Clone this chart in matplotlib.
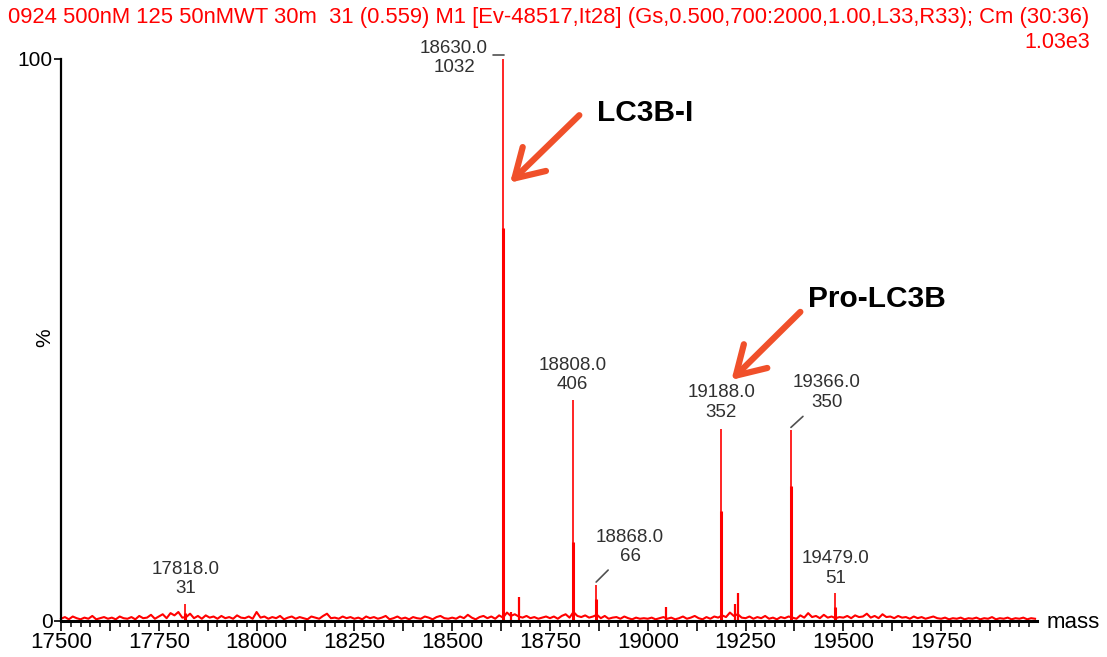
import matplotlib
matplotlib.use("Agg")
import matplotlib.pyplot as plt
import matplotlib.transforms as mtransforms
from matplotlib.ticker import MultipleLocator, FuncFormatter
import numpy as np

plt.rcParams['font.family'] = ['Liberation Sans', 'DejaVu Sans']

# labelled peaks (mass, counts) and the height of the broad lower part of each peak (%)
peak_mass = [17818.0, 18630.0, 18808.0, 18868.0, 19188.0, 19366.0, 19479.0]
peak_counts = [31, 1032, 406, 66, 352, 350, 51]
peak_shoulder = [1.5, 70.0, 14.0, 4.0, 19.6, 24.0, 2.5]
base_peak = 1032

# unlabelled small peaks
minor_mass = [18651, 18671, 19047, 19224, 19231]
minor_pct = [1.6, 4.3, 2.5, 3.0, 5.0]

# baseline noise, one value every 10 Da from 17500
noise_start, noise_step = 17500, 10
noise_pct = [
    0.4, 0.7, 0.3, 0.8, 0.5, 0.3, 0.6, 0.4, 0.9, 0.3, 0.5, 0.7, 0.4, 0.6, 0.3, 0.8, 0.5, 0.4, 0.7, 0.3, 0.9, 0.5, 0.6, 1.1, 0.4,
    0.8, 1.2, 0.5, 1.4, 1.0, 1.6, 0.6, 0.7, 1.3, 0.5, 0.9, 0.4, 1.0, 0.6, 0.8, 0.4, 0.9, 0.5, 0.7, 0.4, 1.0, 0.6, 0.5, 0.8, 0.4,
    1.6, 0.6, 0.8, 0.4, 0.7, 0.5, 0.9, 0.3, 0.6, 0.8, 0.4, 0.7, 0.5, 0.3, 0.8, 0.6, 0.4, 0.9, 1.3, 0.5, 0.6, 0.4, 0.8, 0.5, 0.7,
    0.4, 0.6, 0.3, 0.8, 0.5, 0.7, 0.4, 0.6, 0.9, 0.3, 0.5, 0.8, 0.4, 0.6, 0.3, 0.7, 0.5, 0.4, 0.8, 0.6, 0.3, 0.7, 0.9, 0.5, 0.4,
    0.6, 0.4, 0.8, 0.5, 1.1, 0.6, 0.3, 0.7, 0.9, 0.5, 0.8, 0.4, 1.0, 0.6, 1.5, 0.9, 1.2, 0.8, 0.6, 0.9, 0.5, 0.7, 0.4, 0.6, 0.8,
    0.5, 0.8, 0.4, 0.9, 1.2, 0.6, 1.6, 0.9, 0.7, 1.0, 0.6, 0.8, 1.1, 0.5, 0.9, 0.4, 0.6, 0.7, 0.4, 0.8, 0.5, 0.3, 0.6, 0.4, 0.5,
    0.4, 0.6, 0.3, 0.5, 0.7, 0.4, 0.6, 0.3, 0.5, 0.8, 0.4, 0.6, 0.9, 0.5, 0.3, 0.7, 0.4, 0.8, 0.6, 1.0, 0.7, 1.5, 0.9, 1.2, 0.6,
    0.5, 0.8, 0.4, 0.7, 0.5, 0.9, 0.4, 0.6, 0.3, 0.7, 0.5, 0.8, 0.6, 0.4, 1.0, 0.6, 1.4, 0.7, 0.9, 0.5, 1.1, 0.6, 0.8, 0.5, 0.7,
    0.6, 0.9, 0.5, 1.0, 0.7, 0.8, 1.3, 0.6, 0.9, 0.5, 1.2, 0.7, 0.8, 0.5, 0.9, 0.6, 0.7, 0.4, 0.8, 0.5, 0.7, 0.4, 0.6, 0.8, 0.5,
    0.4, 0.6, 0.3, 0.5, 0.4, 0.6, 0.3, 0.5, 0.4, 0.6, 0.3, 0.5, 0.4, 0.7, 0.3, 0.5, 0.4, 0.6, 0.3, 0.5, 0.4, 0.6, 0.3, 0.5, 0.4,
]

header = "0924 500nM 125 50nMWT 30m  31 (0.559) M1 [Ev-48517,It28] (Gs,0.500,700:2000,1.00,L33,R33); Cm (30:36)"
red = "#FF0000"
arrow_color = "#F0502A"
label_color = "#303030"

peak_pct = [c / base_peak * 100 for c in peak_counts]
noise_mass = noise_start + noise_step * np.arange(len(noise_pct))

fig = plt.figure(figsize=(11.07, 6.57), dpi=100)
ax = fig.add_axes([61 / 1107, 36 / 657, 976 / 1107, 562 / 657])

ax.plot(noise_mass, noise_pct, color=red, lw=1.5, clip_on=False)
ax.vlines(minor_mass, 0, minor_pct, color=red, lw=1.6)
ax.vlines(peak_mass, 0, peak_shoulder, color=red, lw=2.2)
ax.vlines(peak_mass, 0, peak_pct, color=red, lw=1.2, clip_on=False)

ax.set_xlim(17500, 19995)
ax.set_ylim(0, 100)

# peak labels: (dx, dy) offset of the label block in pixels
label_offsets = [(0, 25), (-49, 1), (0, 25), (34, 38), (0, 27), (36, 38), (0, 25)]
for m, c, p, (dx, dy) in zip(peak_mass, peak_counts, peak_pct, label_offsets):
    ax.annotate(f"{m:.1f}\n{c}", xy=(m, p), xytext=(dx, dy), textcoords='offset pixels',
                ha='center', va='center', fontsize=13.5, color=label_color)

def leader(m, p, x0, y0, x1, y1):
    t0 = mtransforms.offset_copy(ax.transData, fig=fig, x=x0, y=y0, units='dots')
    t1 = mtransforms.offset_copy(ax.transData, fig=fig, x=x1, y=y1, units='dots')
    ax.annotate('', xy=(m, p), xycoords=t0, xytext=(m, p), textcoords=t1,
                arrowprops=dict(arrowstyle='-', color='#505050', lw=1.2, shrinkA=0, shrinkB=0))

leader(peak_mass[1], peak_pct[1], 1, 4, -10, 4)
leader(peak_mass[3], peak_pct[3], 0, 3, 12, 15)
leader(peak_mass[5], peak_pct[5], 0, 3, 12, 14)

# arrows pointing at the two forms
arrow_kw = dict(arrowstyle='->,head_length=1.0,head_width=0.6', color=arrow_color, lw=4.5,
                mutation_scale=20, shrinkA=0, shrinkB=0)
ax.annotate('', xy=(18648, 78), xytext=(18825, 90.0), arrowprops=arrow_kw)
ax.annotate('', xy=(19214, 42.9), xytext=(19390, 55.0), arrowprops=arrow_kw)
ax.text(18871, 90.4, "LC3B-I", fontsize=21.5, fontweight='bold', ha='left', va='center')
ax.text(19410, 57.3, "Pro-LC3B", fontsize=21.5, fontweight='bold', ha='left', va='center')

# axes styling
for s in ['top', 'right']:
    ax.spines[s].set_visible(False)
ax.spines['bottom'].set_linewidth(2.2)
ax.spines['left'].set_linewidth(1.6)
ax.xaxis.set_major_locator(MultipleLocator(125))
ax.xaxis.set_minor_locator(MultipleLocator(25))
ax.xaxis.set_major_formatter(FuncFormatter(lambda v, pos: f"{int(v)}" if int(v) % 250 == 0 else ""))
ax.set_yticks([0, 100])
ax.tick_params(axis='x', which='major', length=7, width=1.2, labelsize=16, pad=1)
ax.tick_params(axis='x', which='minor', length=4, width=1.1)
ax.tick_params(axis='y', length=5, width=1.2, labelsize=15, pad=1)

fig.text(45 / 1107, 1 - 338 / 657, "%", rotation=90, ha='center', va='center', fontsize=15)
fig.text(1047 / 1107, 1 - 622 / 657, "mass", ha='left', va='center', fontsize=16)
fig.text(8 / 1107, 1 - 17 / 657, header, ha='left', va='center', fontsize=15.8, color=red)
fig.text(1090 / 1107, 1 - 42 / 657, "1.03e3", ha='right', va='center', fontsize=15.5, color=red)

fig.savefig("out.png", dpi=100)
plt.close(fig)
